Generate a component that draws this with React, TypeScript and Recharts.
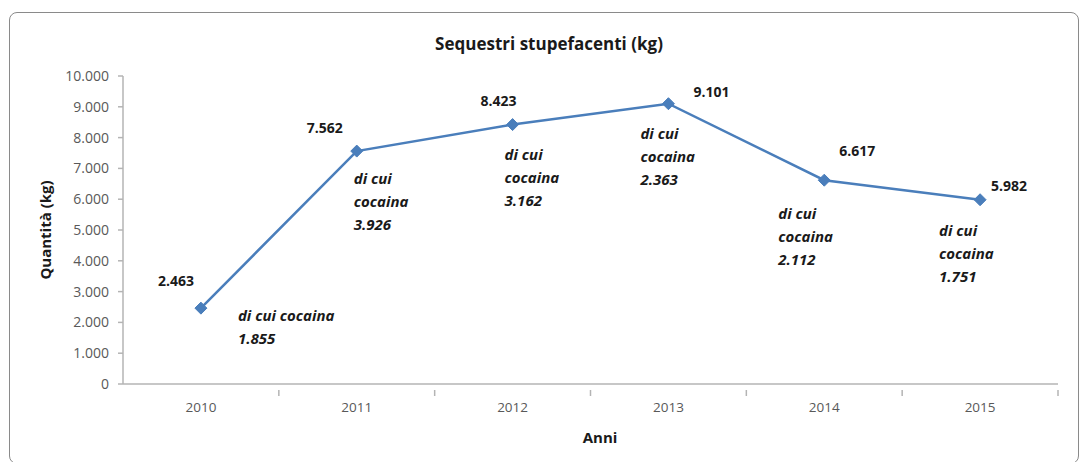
import React from "react";
import { LineChart, Line, XAxis, YAxis, LabelList } from "recharts";

const years = ["2010", "2011", "2012", "2013", "2014", "2015"];
const totalKg = [2463, 7562, 8423, 9101, 6617, 5982];
const cocaineKg = [1855, 3926, 3162, 2363, 2112, 1751];
const yTicks = [0, 1000, 2000, 3000, 4000, 5000, 6000, 7000, 8000, 9000, 10000];

// label placement relative to each point (dx, dy)
const valueOffsets = [
  [-25, -26],
  [-32, -22],
  [-14, -22],
  [43, -10],
  [33, -28],
  [29, -13],
];
const noteOffsets = [
  [37, 13],
  [-3, 33],
  [-8, 35],
  [-28, 35],
  [-46, 39],
  [-41, 36],
];
const noteWrap = [false, true, true, true, true, true];

const W = 1084;
const H = 462;
const PLOT_LEFT = 123;
const PLOT_RIGHT = 1058;
const PLOT_TOP = 76;
const PLOT_BOTTOM = 384;
const STEP = (PLOT_RIGHT - PLOT_LEFT) / years.length;
const FONT = "'Open Sans', Lato, sans-serif";
const BLUE = "#4a7ebb";
const AXIS = "#b4b4b4";

const data = years.map((y, i) => ({ year: y, total: totalKg[i], cocaine: cocaineKg[i] }));

const fmt = (n: number) => String(n).replace(/\B(?=(\d{3})+(?!\d))/g, ".");

function Diamond(props: any) {
  const { cx, cy } = props;
  if (cx == null || cy == null) return null;
  const r = 6;
  return (
    <polygon
      points={`${cx},${cy - r} ${cx + r},${cy} ${cx},${cy + r} ${cx - r},${cy}`}
      fill={BLUE}
      stroke={BLUE}
      strokeWidth={1}
    />
  );
}

function ValueLabel(props: any) {
  const { x, y, value, index } = props;
  const [dx, dy] = valueOffsets[index];
  return (
    <text
      x={x + dx}
      y={y + dy}
      textAnchor="middle"
      dominantBaseline="middle"
      fontFamily={FONT}
      fontWeight={700}
      fontSize={14}
      fill="#1a1a1a"
    >
      {fmt(value)}
    </text>
  );
}

function NoteLabel(props: any) {
  const { x, y, value, index } = props;
  const [dx, dy] = noteOffsets[index];
  const lines = noteWrap[index] ? ["di cui", "cocaina", fmt(value)] : ["di cui cocaina", fmt(value)];
  return (
    <text
      x={x + dx}
      y={y + dy}
      fontFamily={FONT}
      fontWeight={700}
      fontStyle="italic"
      fontSize={15}
      fill="#1a1a1a"
    >
      {lines.map((l, i) => (
        <tspan key={i} x={x + dx} dy={i === 0 ? 0 : 23}>
          {l}
        </tspan>
      ))}
    </text>
  );
}

function YearTick(props: any) {
  const { x, y, payload } = props;
  return (
    <g>
      <line x1={x + STEP / 2} x2={x + STEP / 2} y1={y - 2} y2={y + 4} stroke={AXIS} strokeWidth={1.5} />
      <text x={x} y={y + 20} textAnchor="middle" fontFamily={FONT} fontSize={13.5} fill="#595959">
        {payload.value}
      </text>
    </g>
  );
}

export default function App() {
  return (
    <div style={{ position: "absolute", left: 0, top: 0, width: W, height: H, background: "#fff" }}>
      <div
        style={{
          position: "absolute",
          left: 9,
          top: 12,
          width: 1070,
          height: 452,
          border: "1.5px solid #8a8a8a",
          borderRadius: 8,
          boxSizing: "border-box",
        }}
      />
      <LineChart
        width={W}
        height={H}
        data={data}
        margin={{ top: PLOT_TOP, right: W - PLOT_RIGHT, bottom: H - PLOT_BOTTOM - 30, left: PLOT_LEFT - 60 }}
        style={{ position: "absolute", left: 0, top: 0 }}
      >
        <XAxis
          dataKey="year"
          height={30}
          padding={{ left: STEP / 2, right: STEP / 2 }}
          axisLine={{ stroke: AXIS, strokeWidth: 1.5 }}
          tickLine={false}
          tick={<YearTick />}
          interval={0}
        />
        <YAxis
          width={60}
          domain={[0, 10000]}
          ticks={yTicks}
          tickFormatter={fmt}
          axisLine={{ stroke: AXIS, strokeWidth: 1.5 }}
          tickLine={{ stroke: AXIS, strokeWidth: 1.5 }}
          tickSize={5}
          tickMargin={9}
          tick={{ fontFamily: FONT, fontSize: 14, fill: "#595959" }}
        />
        <Line
          dataKey="total"
          stroke={BLUE}
          strokeWidth={2.5}
          dot={<Diamond />}
          activeDot={false}
          isAnimationActive={false}
        >
          <LabelList dataKey="total" content={<ValueLabel />} />
          <LabelList dataKey="cocaine" content={<NoteLabel />} />
        </Line>
      </LineChart>
      <div
        style={{
          position: "absolute",
          left: 549,
          top: 43,
          transform: "translate(-50%, -50%)",
          fontFamily: FONT,
          fontWeight: 700,
          fontSize: 17,
          color: "#1a1a1a",
          whiteSpace: "nowrap",
        }}
      >
        Sequestri stupefacenti (kg)
      </div>
      <div
        style={{
          position: "absolute",
          left: 45,
          top: 230,
          transform: "translate(-50%, -50%) rotate(-90deg)",
          fontFamily: FONT,
          fontWeight: 700,
          fontSize: 15,
          color: "#1a1a1a",
          whiteSpace: "nowrap",
        }}
      >
        Quantità (kg)
      </div>
      <div
        style={{
          position: "absolute",
          left: 600,
          top: 437,
          transform: "translate(-50%, -50%)",
          fontFamily: FONT,
          fontWeight: 700,
          fontSize: 15,
          color: "#1a1a1a",
        }}
      >
        Anni
      </div>
    </div>
  );
}
